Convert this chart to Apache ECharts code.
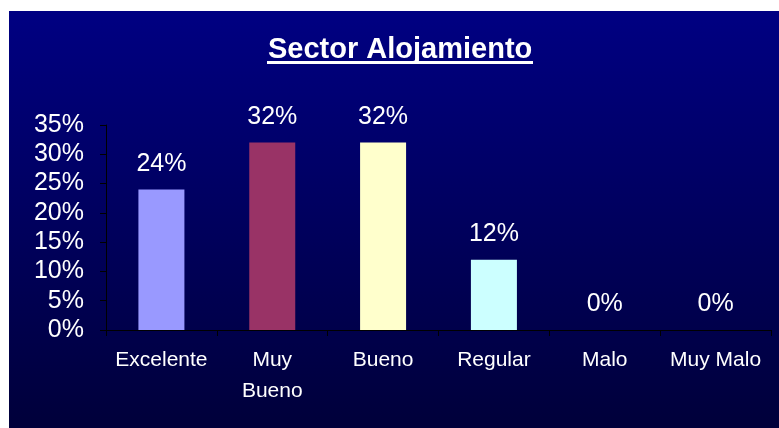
<!DOCTYPE html>
<html>
<head>
<meta charset="utf-8">
<script src="https://cdn.jsdelivr.net/npm/echarts@6/dist/echarts.min.js"></script>
<style>
  html, body { margin: 0; padding: 0; background: #fff; }
  #chart { position: absolute; left: 9px; top: 11px; width: 770px; height: 417px; }
</style>
</head>
<body>
<div id="chart"></div>
<script>
// datos del gráfico
const categories = ['Excelente', 'Muy Bueno', 'Bueno', 'Regular', 'Malo', 'Muy Malo'];
const values = [24, 32, 32, 12, 0, 0];
const barColors = ['#9999FF', '#993366', '#FFFFCC', '#CCFFFF', '#9999FF', '#993366'];
const yTicks = { min: 0, max: 35, interval: 5 };

const font = '"Liberation Sans", Arial, sans-serif';
const chart = echarts.init(document.getElementById('chart'));

chart.setOption({
  backgroundColor: new echarts.graphic.LinearGradient(0, 0, 0, 1, [
    { offset: 0, color: '#000082' },
    { offset: 1, color: '#00003A' },
  ]),
  title: {
    text: 'Sector Alojamiento',
    left: 254,
    top: 19,
    textStyle: { color: '#fff', fontFamily: font, fontWeight: 'bold', fontSize: 29 },
  },
  // subrayado del título
  graphic: [{
    type: 'rect',
    shape: { x: 258, y: 50, width: 266, height: 3 },
    style: { fill: '#fff' },
  }],
  grid: { left: 97, right: 8, top: 114, bottom: 98 },
  xAxis: {
    type: 'category',
    data: categories,
    axisLine: { lineStyle: { color: '#000', width: 1 } },
    axisTick: { show: true, length: 6, lineStyle: { color: '#000' } },
    axisLabel: {
      color: '#fff',
      fontFamily: font,
      fontSize: 21,
      lineHeight: 31,
      margin: 15,
      interval: 0,
      formatter: v => (v === 'Muy Bueno' ? 'Muy\nBueno' : v),
    },
  },
  yAxis: {
    type: 'value',
    min: yTicks.min,
    max: yTicks.max,
    interval: yTicks.interval,
    splitLine: { show: false },
    axisLine: { show: true, lineStyle: { color: '#000', width: 1 } },
    axisTick: { show: true, length: 6, lineStyle: { color: '#000' } },
    axisLabel: {
      color: '#fff',
      fontFamily: font,
      fontSize: 25,
      margin: 22,
      formatter: '{value}%',
    },
  },
  series: [{
    type: 'bar',
    barWidth: 46,
    data: values.map((v, i) => ({ value: v, itemStyle: { color: barColors[i] } })),
    label: {
      show: true,
      position: 'top',
      distance: 13,
      color: '#fff',
      fontFamily: font,
      fontSize: 25,
      formatter: '{c}%',
    },
  }],
});
</script>
</body>
</html>
